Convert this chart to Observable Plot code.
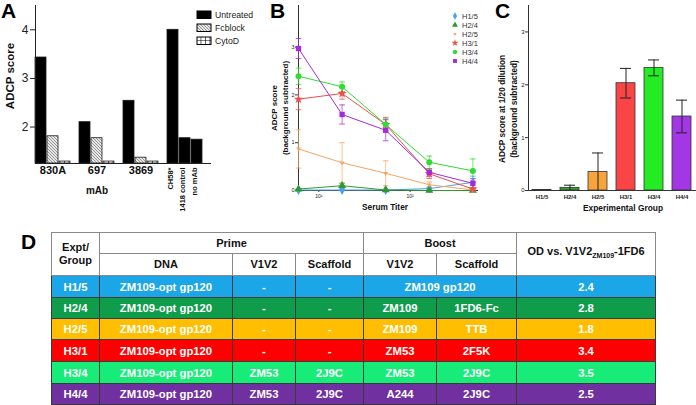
<!DOCTYPE html>
<html><head><meta charset="utf-8">
<script src="https://cdn.jsdelivr.net/npm/d3@7"></script>
<script src="https://cdn.jsdelivr.net/npm/@observablehq/plot@0.6"></script>
<style>
body{margin:0;background:#fff;font-family:"Liberation Sans",Arial,Helvetica,sans-serif;}
#fig{position:relative;width:696px;height:405px;overflow:hidden;background:#fff;}
.lbl{position:absolute;white-space:nowrap;line-height:1;color:#111;}
.plab{position:absolute;font-weight:bold;font-size:21px;line-height:1;color:#000;}
#tbl{position:absolute;left:51px;top:232px;border-collapse:collapse;table-layout:fixed;width:604px;font-weight:bold;border:1.5px solid #333;}
#tbl td,#tbl th{padding:0;text-align:center;vertical-align:middle;border:1px solid #3a3a3a;overflow:hidden;white-space:nowrap;}
#tbl thead th{background:#fff;color:#111;font-size:11px;border-color:#8a8a8a;line-height:13px;}
#tbl tbody td{color:#fff;font-size:11.3px;}
</style></head><body>
<svg width="0" height="0" style="position:absolute">
<defs>
<pattern id="hatchA" patternUnits="userSpaceOnUse" width="3" height="3">
<rect width="3" height="3" fill="#e4e4e4"/>
<path d="M0,0 L3,3 M-1,2 L1,4 M2,-1 L4,1" stroke="#7a7a7a" stroke-width="0.7"/>
</pattern>
<pattern id="gridA" patternUnits="userSpaceOnUse" width="4.5" height="4">
<rect width="4.5" height="4" fill="#fff"/>
<path d="M0,0 H4.5 M0,0 V4" stroke="#000" stroke-width="1.2"/>
</pattern>
</defs></svg>
<div id="fig"></div>
<script>
// ---------- Panel A data ----------
const aGroups = ["830A", "697", "3869"];
const aTreatments = ["Untreated", "Fcblock", "CytoD"];
const aUntreated = [3.43, 2.10, 2.54];
const aFcblock = [1.81, 1.77, 1.37];
const aCytoD = [1.29, 1.29, 1.29];
const aControls = ["CH58*", "1418 control", "no mAb"];
const aControlValues = [4.0, 1.77, 1.74];
const aYTicks = [2, 3, 4];

// ---------- Panel B data ----------
const bGroups = ["H1/5", "H2/4", "H2/5", "H3/1", "H3/4", "H4/4"];
const bColors = ["#4d9ff0", "#2e9a2e", "#f6a55c", "#e9504f", "#2fdc2f", "#a62ad8"];
const titers = [6, 18, 54, 162, 486];
const h15Mean = [0.01, 0.01, 0.01, 0.04, 0.17], h15Err = [0.01, 0.01, 0.01, 0.03, 0.13];
const h24Mean = [0.03, 0.10, 0.01, 0.00, 0.00], h24Err = [0.01, 0.05, 0.01, 0.01, 0.01];
const h25Mean = [0.87, 0.58, 0.36, 0.12, 0.01], h25Err = [0.40, 0.42, 0.26, 0.06, 0.02];
const h31Mean = [1.91, 2.03, 1.38, 0.35, 0.03], h31Err = [0.22, 0.12, 0.15, 0.10, 0.03];
const h34Mean = [2.39, 2.17, 1.38, 0.59, 0.41], h34Err = [0.17, 0.10, 0.12, 0.13, 0.25];
const h44Mean = [2.97, 1.59, 1.26, 0.38, 0.15], h44Err = [0.21, 0.20, 0.22, 0.08, 0.10];
const bYTicks = [0, 1, 2, 3];
const bXTicks = [10, 100];
const bXTickLabels = ["10\u00b9", "10\u00b2"];

// ---------- Panel C data ----------
const cGroups = ["H1/5", "H2/4", "H2/5", "H3/1", "H3/4", "H4/4"];
const cColors = ["#93b4d6", "#35a035", "#f8a43c", "#f94545", "#24ec24", "#a337e6"];
const cMean = [0.01, 0.05, 0.35, 2.03, 2.32, 1.40];
const cErr = [0.00, 0.05, 0.36, 0.28, 0.15, 0.31];
const cYTicks = [0, 1, 2, 3];

// ---------- Panel D data ----------
const dGroups = ["H1/5", "H2/4", "H2/5", "H3/1", "H3/4", "H4/4"];
const dColors = ["#1ba6e8", "#0f9d4c", "#ffbf00", "#ff0000", "#18ec78", "#7030a0"];
const dPrimeDNA = ["ZM109-opt gp120", "ZM109-opt gp120", "ZM109-opt gp120", "ZM109-opt gp120", "ZM109-opt gp120", "ZM109-opt gp120"];
const dPrimeV1V2 = ["-", "-", "-", "-", "ZM53", "ZM53"];
const dPrimeScaffold = ["-", "-", "-", "-", "2J9C", "2J9C"];
const dBoostV1V2 = ["ZM109 gp120", "ZM109", "ZM109", "ZM53", "ZM53", "A244"];
const dBoostScaffold = [null, "1FD6-Fc", "TTB", "2F5K", "2J9C", "2J9C"];
const dOD = ["2.4", "2.8", "1.8", "3.4", "3.5", "2.5"];

const FONT = '"Liberation Sans", Arial, Helvetica, sans-serif';
const fig = document.getElementById("fig");
function put(el, left, top) {
  el.style.position = "absolute"; el.style.left = left + "px"; el.style.top = top + "px";
  fig.appendChild(el); return el;
}
function text(str, x, y, {size = 10, bold = true, rotate = false, lh = 1.2} = {}) {
  const d = document.createElement("div");
  d.className = "lbl";
  d.innerHTML = str;
  d.style.fontSize = size + "px";
  d.style.fontWeight = bold ? "bold" : "normal";
  d.style.textAlign = "center";
  d.style.lineHeight = lh;
  d.style.transform = "translate(-50%,-50%)" + (rotate ? " rotate(-90deg)" : "");
  return put(d, x, y);
}
function panelLabel(ch, x, y) {
  const d = document.createElement("div");
  d.className = "plab"; d.textContent = ch;
  return put(d, x, y);
}
const baseStyle = {fontFamily: FONT, background: "transparent", overflow: "visible", color: "#222"};
const intFmt = d => String(d);

// ================= Panel A =================
const aSeries = [aUntreated, aFcblock, aCytoD];
const aData = [];
aGroups.forEach((g, i) => aTreatments.forEach((t, j) => aData.push({group: g, slot: j, treatment: t, value: aSeries[j][i]})));
const aCtrl = aControls.map((c, j) => ({group: "controls", slot: j, treatment: "Untreated", label: c, value: aControlValues[j]}));
const aAll = aData.concat(aCtrl);
const aYMin = 1.25;

const plotA = Plot.plot({
  width: 230, height: 215,
  marginLeft: 34, marginRight: 26, marginTop: 5, marginBottom: 52,
  style: baseStyle,
  fx: {domain: [...aGroups, "controls"], paddingInner: 0.195, paddingOuter: 0, axis: null, label: null},
  x: {domain: [0, 1, 2], paddingInner: 0.12, paddingOuter: 0, axis: null},
  y: {domain: [aYMin, 4.5], axis: null},
  color: {domain: aTreatments, range: ["#000", "url(#hatchA)", "url(#gridA)"]},
  marks: [
    Plot.barY(aAll, {fx: "group", x: "slot", y1: aYMin, y2: "value", fill: "treatment", stroke: "#1a1a1a", strokeWidth: 0.8}),
    Plot.ruleY([aYMin], {stroke: "#222", strokeWidth: 1, insetRight: -9}),
    Plot.frame({anchor: "left", facetAnchor: "left", stroke: "#222", strokeWidth: 1}),
    Plot.axisY({ticks: aYTicks, tickFormat: intFmt, tickSize: 5, tickPadding: 2, fontSize: 12, label: null, stroke: "#222", color: "#222"}),
    Plot.text(aGroups, {fx: d => d, text: d => d, frameAnchor: "bottom", dy: 10, fontSize: 11, fontWeight: "bold", fill: "#111"}),
    Plot.text(aCtrl, {fx: "group", x: "slot", text: "label", rotate: -90, textAnchor: "end", frameAnchor: "bottom", dy: 4, fontSize: 7.5, fontWeight: "bold", fill: "#111"})
  ]
});
put(plotA, 0, 0);
text("ADCP score", 11, 76, {size: 11.5, rotate: true});
text("mAb", 97, 191, {size: 10});

// Legend A
{
  const svg = d3.create("svg").attr("width", 75).attr("height", 45).style("overflow", "visible").style("font-family", FONT);
  const fills = ["#000", "url(#hatchA)", "url(#gridA)"];
  aTreatments.forEach((t, i) => {
    svg.append("rect").attr("x", 1).attr("y", 3 + i * 13).attr("width", 14).attr("height", 7.5).attr("fill", fills[i]).attr("stroke", "#000").attr("stroke-width", 1);
    svg.append("text").attr("x", 19).attr("y", 6.75 + i * 13).attr("dy", "0.35em").attr("font-size", 8.7).attr("fill", "#222").text(t);
  });
  put(svg.node(), 196, 8);
}

// ================= Panel B =================
const bMeans = [h15Mean, h24Mean, h25Mean, h31Mean, h34Mean, h44Mean];
const bErrs = [h15Err, h24Err, h25Err, h31Err, h34Err, h44Err];
const bData = [];
bGroups.forEach((g, i) => titers.forEach((t, k) => {
  const m = bMeans[i][k], e = bErrs[i][k];
  bData.push({group: g, titer: t, mean: m, lo: Math.max(0, m - e), hi: m + e});
}));
const triDown = {draw(ctx, size) { const s = Math.sqrt(size / (Math.sqrt(3) * 0.75)); const h = s * Math.sqrt(3) / 2;
  ctx.moveTo(0, h * 2 / 3); ctx.lineTo(s / 2, -h / 3); ctx.lineTo(-s / 2, -h / 3); ctx.closePath(); }};
const capSym = {draw(ctx, size) { const w = Math.sqrt(size / Math.PI); ctx.moveTo(-w, 0); ctx.lineTo(w, 0); }};
const bSymbols = [d3.symbolDiamond, d3.symbolTriangle, triDown, d3.symbolStar, d3.symbolCircle, d3.symbolSquare];

const plotB = Plot.plot({
  width: 250, height: 215,
  marginLeft: 68, marginRight: 2, marginTop: 5, marginBottom: 25,
  style: baseStyle,
  x: {type: "log", domain: [6, 560], axis: null},
  y: {domain: [0, 3.87], axis: null},
  color: {domain: bGroups, range: bColors},
  symbol: {domain: bGroups, range: bSymbols},
  marks: [
    Plot.ruleX([6], {stroke: "#333", strokeWidth: 1}),
    Plot.ruleY([0], {stroke: "#333", strokeWidth: 1}),
    Plot.axisY({ticks: bYTicks, tickFormat: intFmt, tickSize: 3, tickPadding: 1, fontSize: 5.5, label: null, stroke: "#333", color: "#222"}),
    Plot.axisX({ticks: bXTicks, tickSize: 2, tickPadding: 2, fontSize: 5, label: null, stroke: "#333", color: "#222",
      tickFormat: d => bXTickLabels[bXTicks.indexOf(d)]}),
    Plot.ruleX(bData, {x: "titer", y1: "lo", y2: "hi", stroke: "group", strokeWidth: 0.8, strokeOpacity: 0.85}),
    Plot.dot(bData, {x: "titer", y: "hi", symbol: capSym, r: 2.8, stroke: "group", strokeWidth: 0.8}),
    Plot.dot(bData, {x: "titer", y: "lo", symbol: capSym, r: 2.8, stroke: "group", strokeWidth: 0.8}),
    Plot.line(bData, {x: "titer", y: "mean", z: "group", stroke: "group", strokeWidth: 1}),
    Plot.dot(bData, {x: "titer", y: "mean", fill: "group", symbol: "group", r: 3})
  ]
});
put(plotB, 230, 0);
text("ADCP score<br>(background subtracted)", 279.5, 108, {size: 8, rotate: true, lh: "11px"});
text("Serum Titer", 385, 207.5, {size: 8.3});

// Legend B
{
  const svg = d3.create("svg").attr("width", 40).attr("height", 60).style("overflow", "visible").style("font-family", FONT);
  bGroups.forEach((g, i) => {
    svg.append("path").attr("transform", `translate(7,${6 + i * 9})`).attr("d", d3.symbol(bSymbols[i], 2.2 * 2.2 * Math.PI)()).attr("fill", bColors[i]);
    svg.append("text").attr("x", 14).attr("y", 6 + i * 9).attr("dy", "0.35em").attr("font-size", 7.5).attr("fill", "#333").text(g);
  });
  put(svg.node(), 448, 10);
}

// ================= Panel C =================
const cData = cGroups.map((g, i) => ({group: g, mean: cMean[i], lo: Math.max(0, cMean[i] - cErr[i]), hi: cMean[i] + cErr[i], err: cErr[i]}));
const cErrData = cData.filter(d => d.err > 0);
const plotC = Plot.plot({
  width: 226, height: 215,
  marginLeft: 58, marginRight: 0, marginTop: 5, marginBottom: 25,
  style: baseStyle,
  x: {domain: cGroups, paddingInner: 0.32, paddingOuter: 0.16, axis: null},
  y: {domain: [0, 3.5], axis: null},
  color: {domain: cGroups, range: cColors},
  marks: [
    Plot.barY(cData, {x: "group", y: "mean", fill: "group", stroke: "#333", strokeWidth: 0.8}),
    Plot.ruleX(cErrData, {x: "group", y1: "lo", y2: "hi", stroke: "#222", strokeWidth: 1}),
    Plot.tickY(cErrData, {x: "group", y: "hi", stroke: "#222", strokeWidth: 1, insetLeft: 4, insetRight: 4}),
    Plot.tickY(cErrData, {x: "group", y: "lo", stroke: "#222", strokeWidth: 1, insetLeft: 4, insetRight: 4}),
    Plot.frame({anchor: "left", stroke: "#333", strokeWidth: 1}),
    Plot.ruleY([0], {stroke: "#333", strokeWidth: 1}),
    Plot.axisY({ticks: cYTicks, tickFormat: intFmt, tickSize: 3, tickPadding: 1, fontSize: 6, label: null, stroke: "#333", color: "#222"}),
    Plot.axisX({tickSize: 0, tickPadding: 4, fontSize: 6, fontWeight: "bold", label: null, color: "#222"})
  ]
});
put(plotC, 470, 0);
text("ADCP score at 1/20 dilution<br>(background subtracted)", 508, 109, {size: 8.3, rotate: true, lh: "12px"});
text("Experimental Group", 623, 207.5, {size: 8.4});

// ================= Panel D (table) =================
{
  const colW = [48, 133, 63, 68, 73, 80, 139];
  const rowH = [21, 22, 22, 21, 21, 22, 22, 21];
  const t = document.createElement("table");
  t.id = "tbl";
  let html = "<colgroup>" + colW.map(w => `<col style="width:${w}px">`).join("") + "</colgroup>";
  html += `<thead><tr style="height:${rowH[0]}px"><th rowspan="2">Expt/<br>Group</th><th colspan="3">Prime</th><th colspan="2">Boost</th>` +
    `<th rowspan="2">OD vs. V1V2<sub style="font-size:7px">ZM109</sub>-1FD6</th></tr>` +
    `<tr style="height:${rowH[1]}px"><th>DNA</th><th>V1V2</th><th>Scaffold</th><th>V1V2</th><th>Scaffold</th></tr></thead><tbody>`;
  dGroups.forEach((g, i) => {
    const bg = dColors[i];
    const cell = (s, extra = "") => `<td ${extra} style="background:${bg}">${s}</td>`;
    html += `<tr style="height:${rowH[i + 2]}px">` + cell(g) + cell(dPrimeDNA[i]) + cell(dPrimeV1V2[i]) + cell(dPrimeScaffold[i]) +
      (dBoostScaffold[i] === null ? cell(dBoostV1V2[i], 'colspan="2"') : cell(dBoostV1V2[i]) + cell(dBoostScaffold[i])) +
      cell(dOD[i]) + "</tr>";
  });
  html += "</tbody>";
  t.innerHTML = html;
  fig.appendChild(t);
}

// Panel labels
panelLabel("A", 1, 0);
panelLabel("B", 270, 0);
panelLabel("C", 495, 0);
panelLabel("D", 21, 231);
</script>
</body></html>
